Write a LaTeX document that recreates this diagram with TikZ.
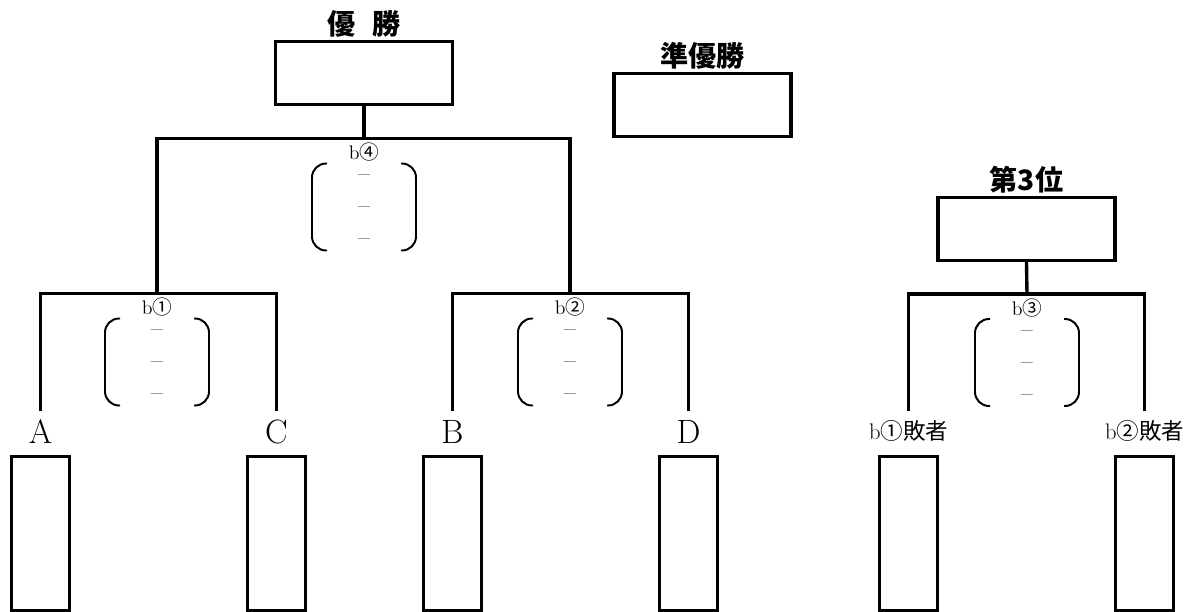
\documentclass[tikz,border=0pt]{standalone}
\usepackage{fontspec}
\newfontfamily\jp{Noto Sans CJK JP}
\usetikzlibrary{positioning}
\tikzset{
  resultbox/.style={rectangle, draw=black, line width=2.4pt, minimum width=4.425cm, minimum height=1.575cm, inner sep=0pt},
  slot/.style={rectangle, draw=black, line width=2.4pt, minimum width=1.45cm, minimum height=3.85cm, inner sep=0pt},
  title/.style={font=\jp\bfseries\fontsize{20}{24}\selectfont, inner sep=0pt},
  team/.style={font=\fontsize{24}{28}\selectfont, inner sep=0pt},
  loser/.style={font=\fontsize{16}{20}\selectfont, inner sep=0pt},
  matchno/.style={font=\fontsize{14}{16}\selectfont, inner sep=0pt},
  blank/.style={font=\fontsize{18}{20}\selectfont, inner sep=0pt},
  branch/.style={draw=black, line width=2.4pt},
  brace/.style={line width=1.4pt, rounded corners=0.35cm}
}

\begin{document}
\begin{tikzpicture}[x=0.025cm, y=-0.025cm]
\useasboundingbox (0,0) rectangle (1193,612);

% result boxes
\node (champ) [resultbox] at (364,73) {};
\node (runner) [resultbox] at (702.5,105) {};
\node (third) [resultbox] at (1026.5,229) {};
\node (champT) [title, above=4pt of champ, anchor=base] {優\hspace{0.6em}勝};
\node (runnerT) [title, above=4pt of runner, anchor=base] {準優勝};
\node (thirdT) [title, above=4pt of third, anchor=base] {第3位};

% entry slots
\node (slotA) [slot] at (40.5,533.5) {};
\node (slotC) [slot] at (276.5,533.5) {};
\node (slotB) [slot] at (452.5,533.5) {};
\node (slotD) [slot] at (688.5,533.5) {};
\node (slotE) [slot] at (908.5,533.5) {};
\node (slotF) [slot] at (1144.5,533.5) {};
\node (labA) [team, above=7.8pt of slotA, anchor=base] {A};
\node (labC) [team, above=7.8pt of slotC, anchor=base] {C};
\node (labB) [team, above=7.8pt of slotB, anchor=base] {B};
\node (labD) [team, above=7.8pt of slotD, anchor=base] {D};
\node (labE) [loser, above=11pt of slotE, anchor=base] {b{\jp ①敗者}};
\node (labF) [loser, above=11pt of slotF, anchor=base] {b{\jp ②敗者}};

% bracket ends and joints
\coordinate [above=1.1cm of slotA] (tA);
\coordinate [above=1.1cm of slotC] (tC);
\coordinate [above=1.1cm of slotB] (tB);
\coordinate [above=1.1cm of slotD] (tD);
\coordinate [above=1.1cm of slotE] (tE);
\coordinate [above=1.1cm of slotF] (tF);
\coordinate (j1) at (157,293.5);
\coordinate (j2) at (570,293.5);
\coordinate (j3) at (1027,294);
\coordinate (final) at (364,138.5);

\draw [branch] (tA) |- (j1) -| (tC);
\draw [branch] (tB) |- (j2) -| (tD);
\draw [branch] (j1) |- (final) -| (j2);
\draw [branch] (champ.south) -- (final);
\draw [branch] (tE) |- (j3) -| (tF);
\draw [branch] (third.south) -- (j3);

% match numbers and score brackets
\foreach \m/\n in {final/④, j1/①, j2/②, j3/③} {
  \begin{scope}[shift={(\m)}]
    \node (\m-no) [matchno] at (0,14) {b{\jp \n}};
    \draw [brace] (-37,25) -| (-52,68) |- (-37,112);
    \draw [brace] (37,25) -| (52,68) |- (37,112);
    \foreach \dy in {40,72,104} \node [blank] at (0,\dy) {–};
  \end{scope}
}
\end{tikzpicture}
\end{document}
